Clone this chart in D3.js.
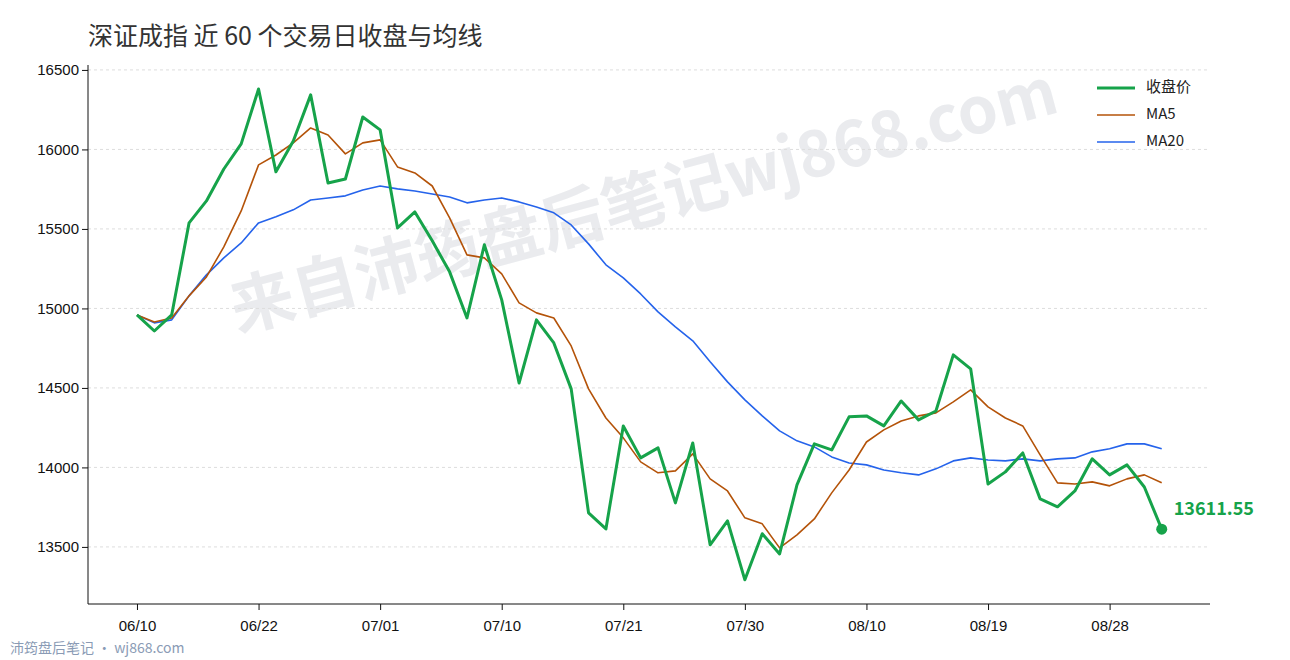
<!DOCTYPE html>
<html><head><meta charset="utf-8">
<script src="https://cdn.jsdelivr.net/npm/d3@7/dist/d3.min.js"></script>
<style>body{margin:0;background:#fff}svg{display:block;font-family:"Noto Sans CJK SC","Noto Sans",sans-serif}</style>
</head><body><svg id="c" width="1290" height="660"></svg>
<script>
const dates=["06/10","06/11","06/12","06/13","06/16","06/17","06/18","06/22","06/23","06/24","06/25","06/26","06/27","06/30",
"07/01","07/02","07/03","07/04","07/07","07/08","07/09","07/10","07/11","07/14","07/15","07/16","07/17","07/18",
"07/21","07/22","07/23","07/24","07/25","07/28","07/29","07/30","07/31","08/01","08/04","08/05","08/06","08/07",
"08/10","08/11","08/12","08/13","08/14","08/15","08/18","08/19","08/20","08/21","08/22","08/25","08/26","08/27",
"08/28","08/29","09/01","09/02"];
const tickIdx=[0,7,14,21,28,35,42,49,56];
const close=[14959,14858,14960,15538,15676,15877,16035,16380,15859,16053,16343,15789,15814,16204,16123,15506,15607,15425,15230,14940,
15400,15054,14531,14928,14783,14494,13714,13613,14261,14060,14123,13777,14154,13513,13664,13293,13583,13456,13890,14148,
14110,14318,14324,14261,14418,14299,14355,14708,14620,13896,13972,14091,13802,13752,13852,14054,13953,14016,13877,13611.55];
const ma5=[14959,14915,14940,15079,15198,15387,15613,15903,15965,16041,16135,16091,15972,16041,16060,15890,15852,15770,15569,15337,
15318,15217,15035,14972,14940,14764,14494,14311,14186,14035,13966,13978,14085,13928,13852,13683,13645,13494,13576,13676,
13840,13984,14160,14236,14292,14324,14343,14412,14488,14381,14311,14261,14079,13903,13896,13909,13884,13928,13953,13903];
const ma20=[14959,14909,14928,15079,15211,15318,15412,15538,15576,15620,15682,15695,15708,15745,15770,15752,15739,15720,15701,15664,
15682,15695,15670,15638,15601,15525,15406,15274,15192,15091,14978,14884,14796,14664,14538,14425,14324,14230,14167,14129,
14066,14028,14016,13984,13966,13953,13991,14041,14060,14047,14041,14054,14041,14054,14060,14098,14117,14148,14148,14117];
const yTicks=[13500,14000,14500,15000,15500,16000,16500];
const series=[{name:"收盘价",data:close,color:"#16a34a",w:3},{name:"MA5",data:ma5,color:"#b45309",w:1.6},{name:"MA20",data:ma20,color:"#2563eb",w:1.6}];

const svg=d3.select("#c");
const L=88,R=1210,T=65,B=604;
const x=d3.scaleLinear().domain([-2.82,61.78]).range([L,R]);
const y=d3.scaleLinear().domain([13141,16531]).range([B,T]);

svg.append("text").attr("x",645).attr("y",205).attr("text-anchor","middle").attr("dominant-baseline","middle")
 .attr("transform","rotate(-15,645,205)").attr("font-size",64).attr("font-weight","bold").attr("fill","#e5e7eb").attr("opacity",0.8)
 .text("来自沛筠盘后笔记wj868.com");

svg.append("g").selectAll("line").data(yTicks).join("line").attr("x1",L).attr("x2",R)
 .attr("y1",d=>y(d)).attr("y2",d=>y(d)).attr("stroke","#ddd").attr("stroke-dasharray","3,3");

const ya=svg.append("g").attr("transform",`translate(${L},0)`).call(d3.axisLeft(y).tickValues(yTicks).tickFormat(d3.format("d")).tickSizeOuter(0));
const xa=svg.append("g").attr("transform",`translate(0,${B})`).call(d3.axisBottom(x).tickValues(tickIdx).tickFormat(i=>dates[i]).tickSizeOuter(0));
[ya,xa].forEach(a=>{a.selectAll("text").attr("font-size",15).attr("fill","#111");a.select(".domain").attr("stroke","#111");a.selectAll(".tick line").attr("stroke","#111")});
ya.select(".domain").attr("d",`M0,${T}V${B}`);
xa.select(".domain").attr("d",`M${L},0H${R}`);
xa.selectAll("text").attr("dy","1.2em");

const line=d3.line().x((d,i)=>x(i)).y(d=>y(d));
[...series].reverse().forEach(s=>svg.append("path").attr("d",line(s.data)).attr("fill","none").attr("stroke",s.color).attr("stroke-width",s.w).attr("stroke-linejoin","round"));

const li=close.length-1;
svg.append("circle").attr("cx",x(li)).attr("cy",y(close[li])).attr("r",5.5).attr("fill","#16a34a");
svg.append("text").attr("x",x(li)+12).attr("y",y(close[li])-14).attr("font-size",18).attr("font-weight","bold").attr("fill","#16a34a").text(close[li].toFixed(2));

const lg=svg.append("g").attr("transform","translate(1097,88)");
series.forEach((s,i)=>{const g=lg.append("g").attr("transform",`translate(0,${i*27})`);
 g.append("line").attr("x1",0).attr("x2",38).attr("stroke",s.color).attr("stroke-width",s.w);
 g.append("text").attr("x",49).attr("y",0).attr("dominant-baseline","middle").attr("font-size",15).attr("fill","#222").text(s.name);});

svg.append("text").attr("x",88).attr("y",45).attr("font-size",25).attr("fill","#333").text("深证成指 近 60 个交易日收盘与均线");
svg.append("text").attr("x",10).attr("y",653).attr("font-size",14).attr("fill","#8a9bb5").text("沛筠盘后笔记 · wj868.com");
</script></body></html>
